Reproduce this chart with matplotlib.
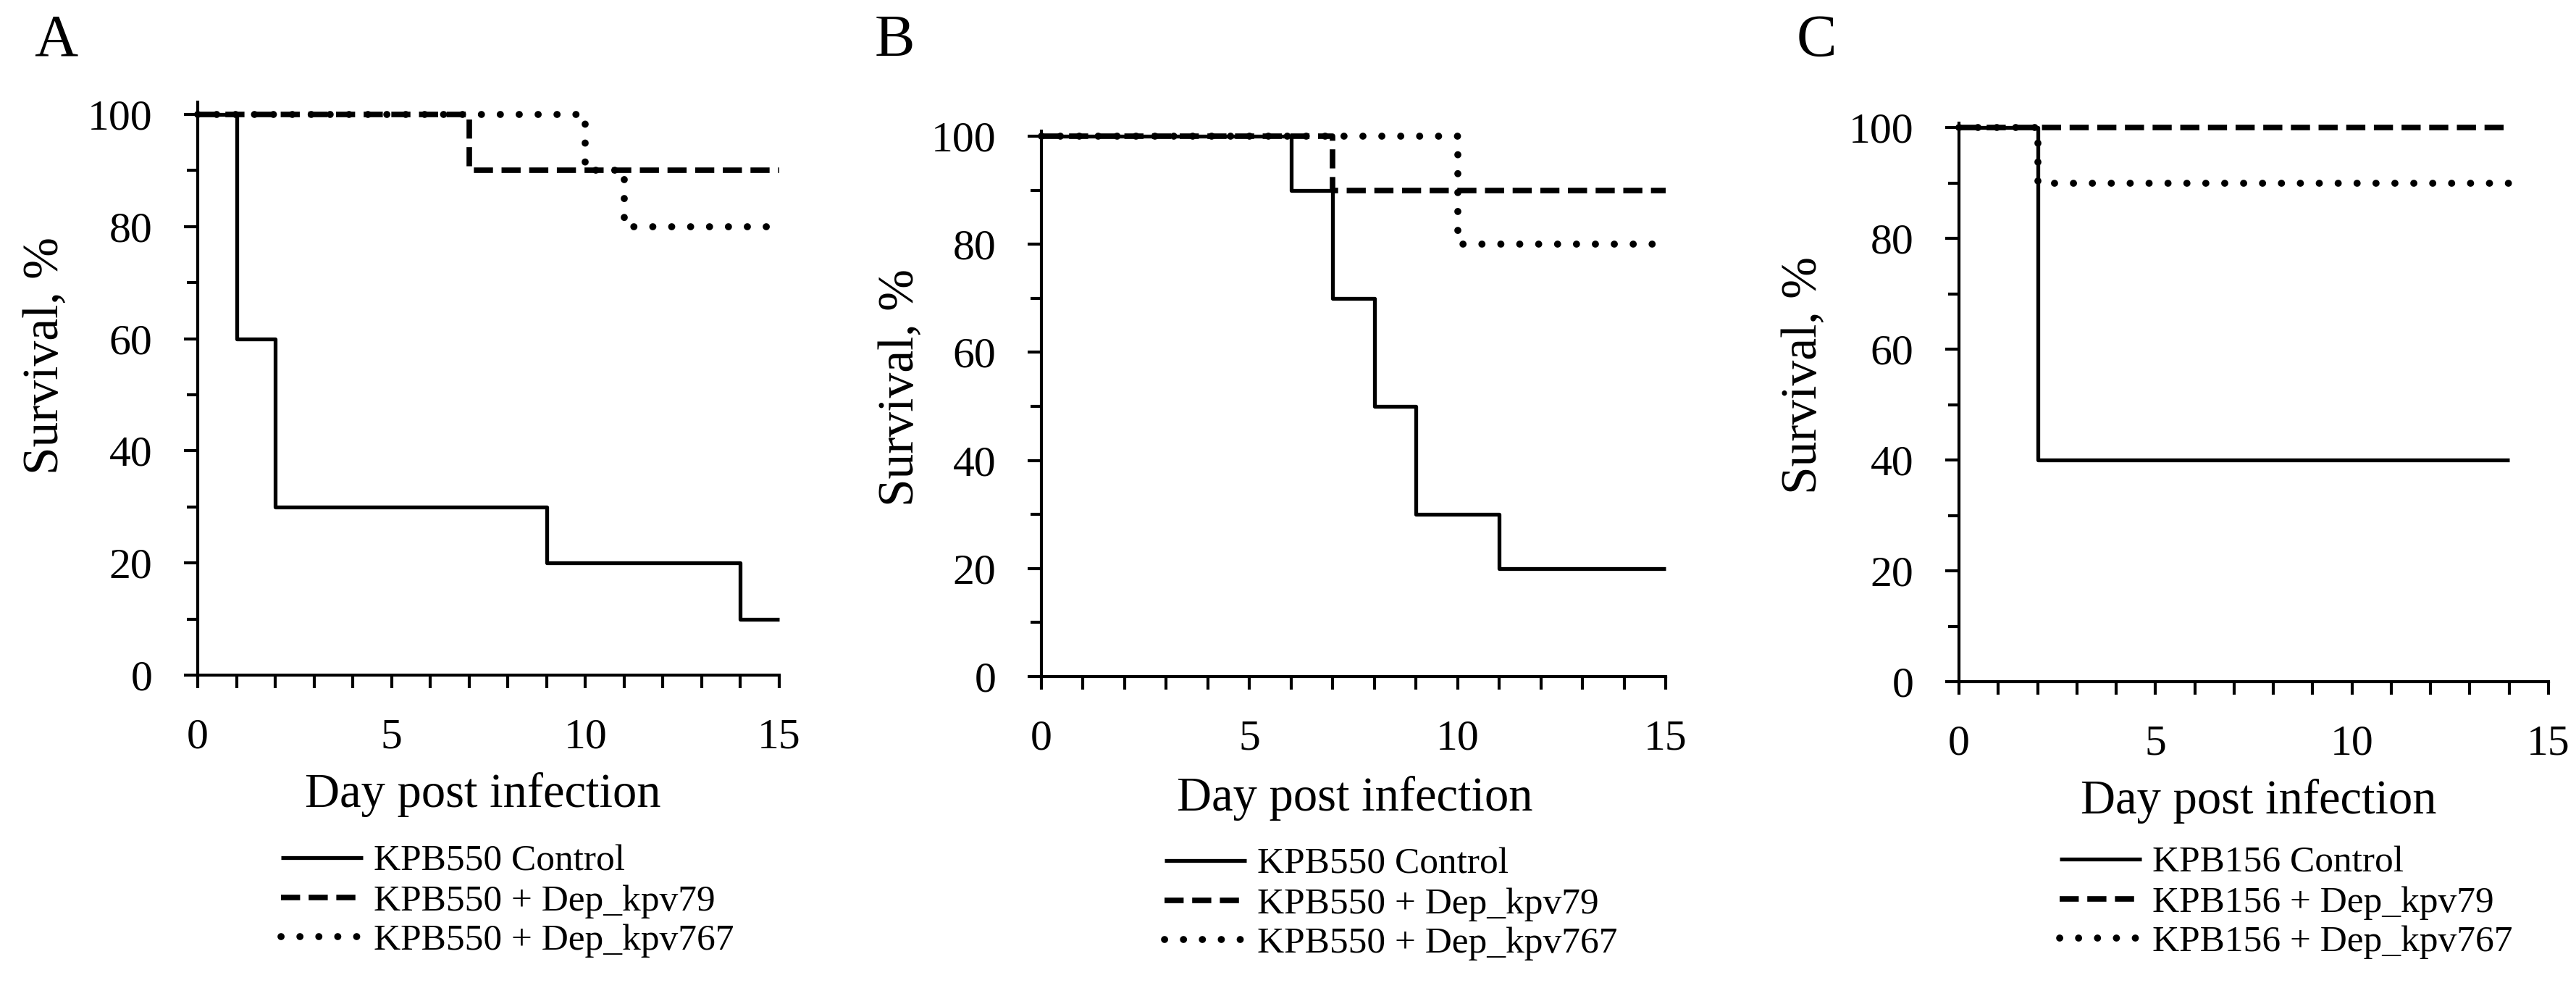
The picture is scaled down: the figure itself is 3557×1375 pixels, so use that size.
import matplotlib
matplotlib.use("Agg")
import matplotlib.pyplot as plt

plt.rcParams['font.family'] = ['Liberation Serif', 'DejaVu Serif']
plt.rcParams['lines.scale_dashes'] = False

W, H = 3557, 1375

# ---- data (day, survival %) ----
panel_letters = ['A', 'B', 'C']
strains = ['KPB550', 'KPB550', 'KPB156']
treatments = ['Control', '+ Dep_kpv79', '+ Dep_kpv767']

a_control_days = [0, 1, 2, 9, 14, 15]
a_control_surv = [100, 60, 30, 20, 10, 10]
a_kpv79_days = [0, 7, 15]
a_kpv79_surv = [100, 90, 90]
a_kpv767_days = [0, 10, 11, 15]
a_kpv767_surv = [100, 90, 80, 80]

b_control_days = [0, 6, 7, 8, 9, 11, 15]
b_control_surv = [100, 90, 70, 50, 30, 20, 20]
b_kpv79_days = [0, 7, 15]
b_kpv79_surv = [100, 90, 90]
b_kpv767_days = [0, 10, 15]
b_kpv767_surv = [100, 80, 80]

c_control_days = [0, 2, 14]
c_control_surv = [100, 40, 40]
c_kpv79_days = [0, 14]
c_kpv79_surv = [100, 100]
c_kpv767_days = [0, 2, 14]
c_kpv767_surv = [100, 90, 90]

panel_series = [
    [(a_control_days, a_control_surv), (a_kpv79_days, a_kpv79_surv), (a_kpv767_days, a_kpv767_surv)],
    [(b_control_days, b_control_surv), (b_kpv79_days, b_kpv79_surv), (b_kpv767_days, b_kpv767_surv)],
    [(c_control_days, c_control_surv), (c_kpv79_days, c_kpv79_surv), (c_kpv767_days, c_kpv767_surv)],
]

# ---- layout in pixels: x of day 0, x of day 15, y of 0 %, y of 100 %, y of spine top ----
axes_px = [
    (273, 1076, 932, 158, 141),
    (1438, 2300, 934, 188, 181),
    (2705, 3519, 941, 176, 170),
]
letter_px = [(77, 57), (1235, 57), (2508, 57)]
ylabel_px = [(63, 491), (1244, 535), (2491, 518)]
xlabel_px = [(667, 1097), (1871, 1102), (3119, 1106)]
legend_px = [(388, 1166), (1608, 1170), (2844, 1168)]

styles = [
    dict(linestyle='-', lw=3.8, solid_capstyle='butt'),
    dict(linestyle=(0, (19, 8.5)), lw=5.5, dash_capstyle='butt'),
    dict(linestyle=(0, (0.1, 18.7)), lw=7, dash_capstyle='round'),
]


def fx(px):
    return px / W


def fy(py):
    return 1 - py / H


fig = plt.figure(figsize=(W / 100, H / 100), dpi=100)

for i in range(3):
    x0, x15, y0, y100, ytop = axes_px[i]
    ax = fig.add_axes([fx(x0), fy(y0), (x15 - x0) / W, (y0 - ytop) / H])
    ymax = 100 * (y0 - ytop) / (y0 - y100)

    handles = []
    for (days, surv), st, tr in zip(panel_series[i], styles, treatments):
        line, = ax.step(days, surv, where='post', color='black', clip_on=False,
                        label=f'{strains[i]} {tr}', **st)
        handles.append(line)

    ax.set_xlim(0, 15)
    ax.set_ylim(0, ymax)
    for s in ['top', 'right']:
        ax.spines[s].set_visible(False)
    for s in ['left', 'bottom']:
        ax.spines[s].set_linewidth(3)

    ax.set_xticks(range(16))
    ax.set_xticklabels([str(d) if d % 5 == 0 else '' for d in range(16)])
    ax.set_yticks([0, 20, 40, 60, 80, 100])
    ax.set_yticks([10, 30, 50, 70, 90], minor=True)
    ax.tick_params(axis='x', direction='out', length=13, width=3, pad=30, labelsize=43)
    ax.tick_params(axis='y', which='major', direction='out', length=14, width=3, pad=31, labelsize=43)
    ax.tick_params(axis='y', which='minor', direction='out', length=11, width=3)

    fig.text(fx(letter_px[i][0]), fy(letter_px[i][1]), panel_letters[i],
             fontsize=60, ha='center', va='center')
    fig.text(fx(ylabel_px[i][0]), fy(ylabel_px[i][1]), 'Survival, %',
             fontsize=50, rotation=90, ha='center', va='center')
    fig.text(fx(xlabel_px[i][0]), fy(xlabel_px[i][1]), 'Day post infection',
             fontsize=48, ha='center', va='center')

    fig.legend(handles=handles, loc='upper left',
               bbox_to_anchor=(fx(legend_px[i][0]), fy(legend_px[i][1])),
               frameon=False, fontsize=37, handlelength=2.2, handletextpad=0.3,
               labelspacing=0.15, borderpad=0, borderaxespad=0)

fig.savefig('out.png', dpi=100)
